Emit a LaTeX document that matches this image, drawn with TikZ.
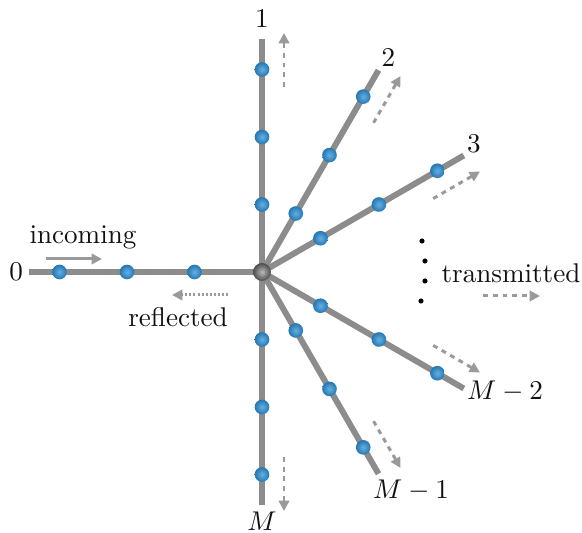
\documentclass[tikz,border=0pt]{standalone}
\usetikzlibrary{arrows.meta,positioning,calc,backgrounds}
\definecolor{wiregrey}{HTML}{8C8C8C}
\definecolor{flowgrey}{HTML}{9A9A9A}
\definecolor{siteblue}{HTML}{2F95DC}
\definecolor{ink}{HTML}{111111}

\begin{document}
\begin{tikzpicture}[x=0.369pt,y=0.369pt,
  wire/.style={wiregrey,line width=2.2pt},
  site/.style={circle,inner sep=0pt,minimum size=5.4pt,shading=radial,
    inner color=siteblue!75!white,outer color=siteblue!80!black},
  hub/.style={circle,inner sep=0pt,minimum size=6.6pt,shading=radial,
    inner color=gray!55,outer color=gray!60!black},
  flow/.style={flowgrey,line width=1.1pt,-{Triangle[length=3.8pt,width=3.8pt]}},
  tag/.style={text=ink,inner sep=1pt}]
  \useasboundingbox (-262,-261) rectangle (320,272);
  \node[hub] (hub) at (0,0) {};
  % branches with three sites each
  \foreach \a/\n in {180/0,90/1,60/2,30/3,-30/m2,-60/m1,-90/m}{
    \coordinate (e\n) at (\a:233);
    \begin{scope}[on background layer]
      \draw[wire] (hub.center) -- (e\n);
    \end{scope}
    \foreach \k in {1,2,3} \node[site] (s\n\k) at (\a:67.5*\k) {};
  }
  % branch labels
  \node[tag,anchor=east,inner sep=2pt] (l0) at (e0) {$0$};
  \node[tag,anchor=south,inner sep=4pt] (l1) at (e1) {$1$};
  \node[tag,anchor=south west] (l2) at (e2) {$2$};
  \node[tag,anchor=south west] (l3) at (e3) {$3$};
  \node[tag,anchor=west,yshift=-1pt] (lm2) at (em2) {$M-2$};
  \node[tag,anchor=north west,inner sep=0pt,xshift=-2.2pt,yshift=-2.2pt] (lm1) at (em1) {$M-1$};
  \node[tag,anchor=north,inner sep=2.5pt] (lm) at (em) {$M$};
  % transmitted waves on the outgoing branches
  \foreach \a/\o/\n in {90/0/1,60/-30/2,30/-60/3,-30/60/m2,-60/30/m1,-90/0/m}{
    \coordinate (f\n) at ($(\a:185)+(\o:22)$);
    \coordinate (t\n) at ($(\a:239)+(\o:22)$);
    \draw[flow,dash pattern=on 1.8pt off 1.8pt] (f\n) -- (t\n);
  }
  % incoming and reflected
  \coordinate (inA) at (-216,13);
  \coordinate (inB) at (-160,13);
  \draw[flow] (inA) -- (inB);
  \node[tag] (incoming) at (-179,35) {incoming};
  \coordinate (reA) at (-34,-23);
  \coordinate (reB) at (-90,-23);
  \draw[flow,dash pattern=on 0.75pt off 0.75pt] (reA) -- (reB);
  \node[tag] (reflected) at (-84,-45) {reflected};
  % remaining branches
  \foreach \p in {(160,31),(163,11),(163,-9),(159,-29)}
    \fill[black] \p circle (0.95pt);
  \node[tag,anchor=base] (transmitted) at (249,-11) {transmitted};
  \coordinate (trA) at (221,-24);
  \coordinate (trB) at (278,-24);
  \draw[flow,dash pattern=on 1.8pt off 1.8pt] (trA) -- (trB);
\end{tikzpicture}
\end{document}
